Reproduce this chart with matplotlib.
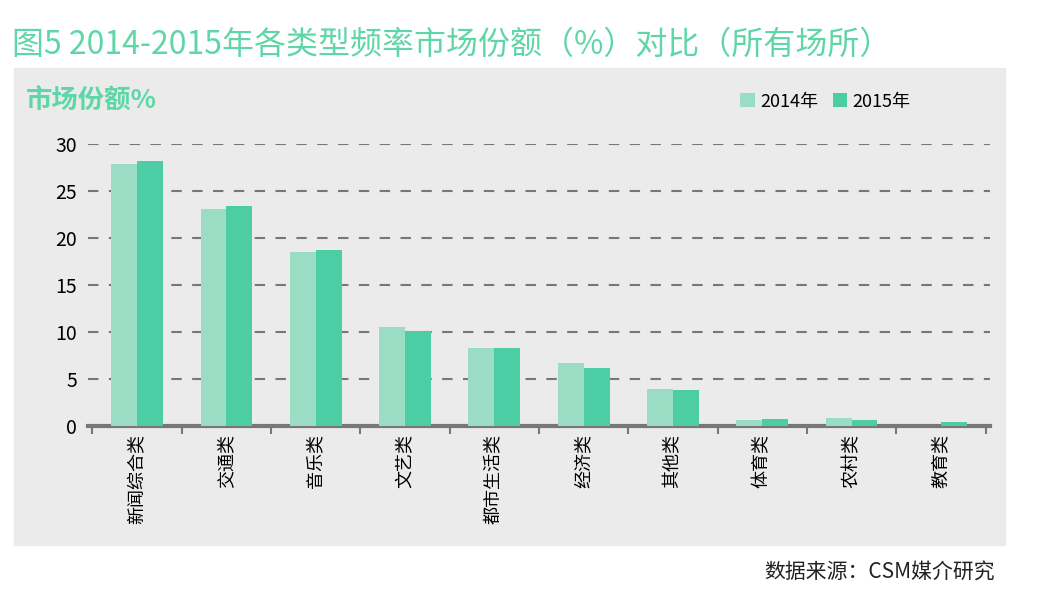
import matplotlib
matplotlib.use('Agg')
import matplotlib.pyplot as plt
from matplotlib.patches import Rectangle
import numpy as np

plt.rcParams['font.family'] = ['Noto Sans CJK SC', 'DejaVu Sans']

categories = ['新闻综合类', '交通类', '音乐类', '文艺类', '都市生活类', '经济类', '其他类', '体育类', '农村类', '教育类']
share_2014 = [27.9, 23.1, 18.5, 10.5, 8.3, 6.7, 3.9, 0.6, 0.8, 0.0]
share_2015 = [28.2, 23.4, 18.7, 10.1, 8.3, 6.2, 3.8, 0.7, 0.6, 0.4]
yticks = [0, 5, 10, 15, 20, 25, 30]

c14 = '#9adcc4'
c15 = '#4ccda4'
bg = '#ebebeb'

fig = plt.figure(figsize=(10.4, 6.0), dpi=100)
fig.patches.append(Rectangle((14 / 1040, 55 / 600), 991 / 1040, 477 / 600,
                             transform=fig.transFigure, color=bg, zorder=-10))
fig.text(12 / 1040, 1 - 45 / 600, '图5 2014-2015年各类型频率市场份额（%）对比（所有场所）',
         color='#5fd6a8', fontsize=23, va='center')
fig.text(26 / 1040, 1 - 101 / 600, '市场份额%', color='#5fd6a8', fontsize=19,
         fontweight='bold', va='center')
fig.text(995 / 1040, 1 - 572 / 600, '数据来源：CSM媒介研究', fontsize=15,
         ha='right', va='center', color='#222222')

ax = fig.add_axes([88 / 1040, 1 - 426 / 600, 902 / 1040, 282 / 600])
ax.set_zorder(5)
ax.set_facecolor(bg)
x = np.arange(len(categories))
w = 0.29
ax.bar(x - w / 2, share_2014, w, color=c14, label='2014年', zorder=3)
ax.bar(x + w / 2, share_2015, w, color=c15, label='2015年', zorder=3)
ax.set_xlim(-0.55, len(categories) - 0.45)
ax.set_ylim(0, 30)
ax.set_yticks(yticks)
ax.tick_params(axis='y', length=0, labelsize=14, pad=8)
ax.set_xticks(x)
ax.set_xticklabels(categories, rotation=90, fontsize=13)
ax.set_xticks(np.arange(len(categories) + 1) - 0.5, minor=True)
ax.tick_params(axis='x', which='minor', length=6, width=1.5, color='#777777')
ax.tick_params(axis='x', which='major', length=0, pad=6)
ax.grid(axis='y', linestyle=(0, (5, 5)), color='#777777', linewidth=1.5, zorder=0)
for s in ['top', 'right', 'left']:
    ax.spines[s].set_visible(False)
ax.spines['bottom'].set_color('#777777')
ax.spines['bottom'].set_linewidth(3)
ax.legend(loc='upper right', bbox_to_anchor=(0.93, 1.24), ncol=2, frameon=False,
          fontsize=13, handlelength=0.8, handleheight=0.8, columnspacing=0.8,
          handletextpad=0.3)

fig.savefig('out.png', dpi=100)
